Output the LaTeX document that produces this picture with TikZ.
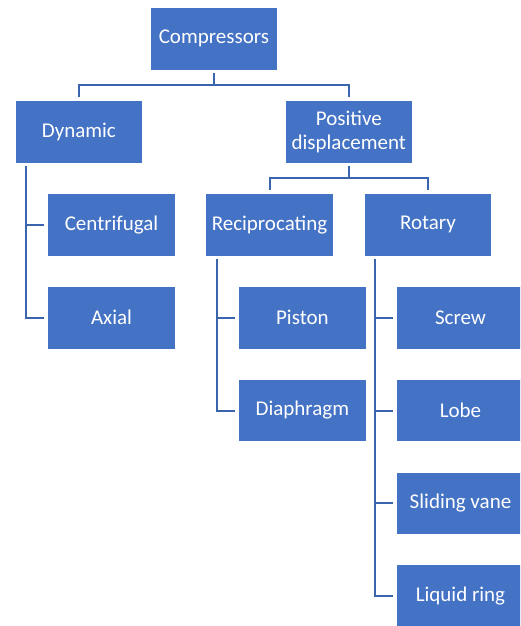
\documentclass[tikz,border=0pt]{standalone}
\usepackage{fontspec}
\setmainfont{Carlito}
\definecolor{boxblue}{HTML}{4472C4}
\definecolor{lineblue}{HTML}{3A64AE}
\begin{document}
\begin{tikzpicture}[x=1pt,y=-1pt,
  box/.style={fill=boxblue,draw=white,line width=0.8pt,minimum width=127.5pt,minimum height=62.5pt,
    inner sep=0pt,text=white,align=center,font=\fontsize{21}{23.5}\selectfont},
  conn/.style={draw=lineblue,line width=2pt}]
\useasboundingbox (0,0) rectangle (520,626);
\clip (0,0) rectangle (520,626);
\fill[white] (0,0) rectangle (520,626);
% connectors first
\coordinate (c1) at (213.9,85);
\coordinate (c2) at (348.8,177.5);
\node[box] (comp) at (213.9,38.8) {Compressors};
\node[box] (dyn) at (78.85,131.8) {Dynamic};
\node[box] (pd) at (348.8,131.8) {Positive\\displacement};
\node[box] (cen) at (111.5,224.7) {Centrifugal};
\node[box] (axi) at (111.5,317.7) {Axial};
\node[box] (rec) at (269.5,224.7) {Reciprocating};
\node[box] (rot) at (428,224.7) {Rotary};
\node[box] (pis) at (302.4,317.7) {Piston};
\node[box] (dia) at (302.4,410.5) {Diaphragm};
\node[box] (scr) at (460.5,317.7) {Screw};
\node[box] (lob) at (460.5,410.5) {Lobe};
\node[box] (sli) at (460.5,503.3) {Sliding vane};
\node[box] (liq) at (460.5,596.1) {Liquid ring};
\begin{scope}[on background layer/.style={}]
\end{scope}
\draw[conn,shorten <=3pt] (comp.south) -- (c1);
\draw[conn,shorten >=3pt] (c1) -| (dyn.north);
\draw[conn,shorten >=3pt] (c1) -| (pd.north);
\draw[conn,shorten <=3pt] (pd.south) -- (c2);
\draw[conn,shorten >=3pt] (c2) -| (rec.north);
\draw[conn,shorten >=3pt] (c2) -| (rot.north);
\draw[conn,shorten <=3pt,shorten >=3pt] ([xshift=11pt]dyn.south west) |- (cen.west);
\draw[conn,shorten <=3pt,shorten >=3pt] ([xshift=11pt]dyn.south west) |- (axi.west);
\draw[conn,shorten <=3pt,shorten >=3pt] ([xshift=11.5pt]rec.south west) |- (pis.west);
\draw[conn,shorten <=3pt,shorten >=3pt] ([xshift=11.5pt]rec.south west) |- (dia.west);
\draw[conn,shorten <=3pt,shorten >=3pt] ([xshift=11.5pt]rot.south west) |- (scr.west);
\draw[conn,shorten <=3pt,shorten >=3pt] ([xshift=11.5pt]rot.south west) |- (lob.west);
\draw[conn,shorten <=3pt,shorten >=3pt] ([xshift=11.5pt]rot.south west) |- (sli.west);
\draw[conn,shorten <=3pt,shorten >=3pt] ([xshift=11.5pt]rot.south west) |- (liq.west);
\end{tikzpicture}
\end{document}
